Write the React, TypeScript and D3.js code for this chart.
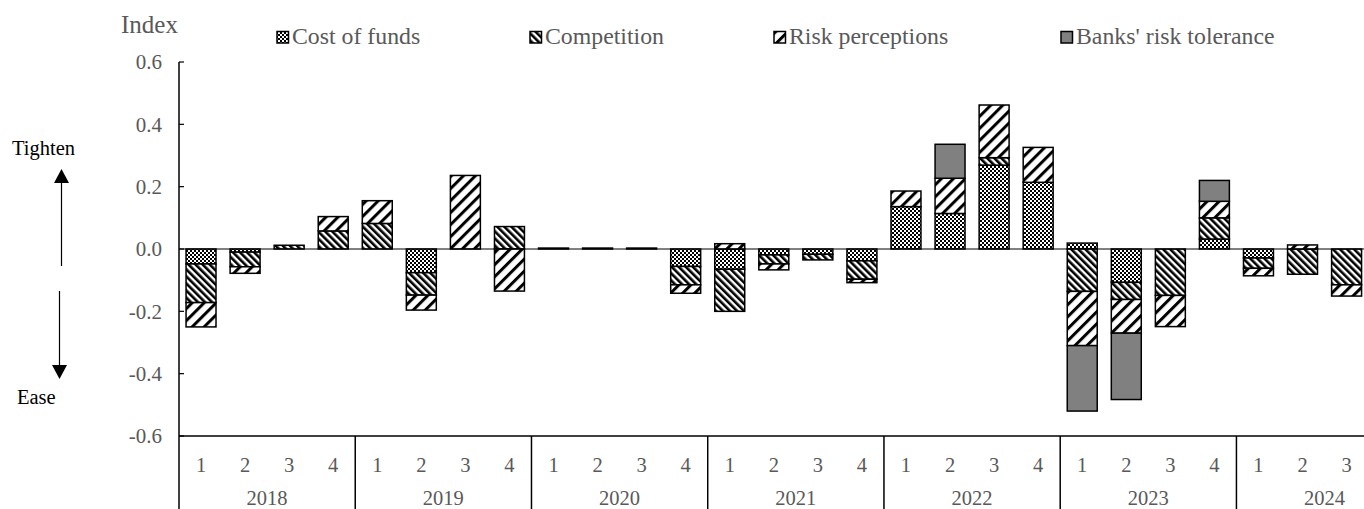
import React from 'react';
import * as d3 from 'd3';

const years = ['2018', '2019', '2020', '2021', '2022', '2023', '2024'];
const quarterLabels = ['1', '2', '3', '4'];
const periods = [
  '2018Q1','2018Q2','2018Q3','2018Q4',
  '2019Q1','2019Q2','2019Q3','2019Q4',
  '2020Q1','2020Q2','2020Q3','2020Q4',
  '2021Q1','2021Q2','2021Q3','2021Q4',
  '2022Q1','2022Q2','2022Q3','2022Q4',
  '2023Q1','2023Q2','2023Q3','2023Q4',
  '2024Q1','2024Q2','2024Q3',
];
const costOfFunds = [
  -0.048, -0.01, 0, 0,
  0, -0.076, 0, 0,
  0.003, 0.003, 0.003, -0.056,
  -0.065, -0.019, -0.017, -0.038,
  0.136, 0.114, 0.269, 0.214,
  0.019, -0.107, 0, 0.032,
  -0.029, 0, 0,
];
const competition = [
  -0.124, -0.047, 0.012, 0.058,
  0.082, -0.072, 0, 0.072,
  0, 0, 0, -0.059,
  -0.135, -0.029, -0.018, -0.059,
  0, 0, 0.024, 0,
  -0.136, -0.055, -0.149, 0.068,
  -0.033, -0.081, -0.115,
];
const riskPerceptions = [
  -0.078, -0.021, 0, 0.046,
  0.073, -0.048, 0.236, -0.135,
  0, 0, 0, -0.027,
  0.017, -0.019, 0, -0.011,
  0.05, 0.113, 0.169, 0.112,
  -0.174, -0.108, -0.1, 0.053,
  -0.024, 0.013, -0.036,
];
const riskTolerance = [
  0, 0, 0, 0,
  0, 0, 0, 0,
  0, 0, 0, 0,
  0, 0, 0, 0,
  0, 0.109, 0, 0,
  -0.21, -0.213, 0, 0.067,
  0, 0, 0,
];
const seriesNames = ['Cost of funds', 'Competition', 'Risk perceptions', "Banks' risk tolerance"];
const yTicks = [0.6, 0.4, 0.2, 0.0, -0.2, -0.4, -0.6];

const W = 1364;
const H = 509;
const FONT = "'Liberation Serif', 'Times New Roman', serif";

export default function App() {
  const left = 179;
  const step = 44.06;
  const x = d3.scaleBand<string>().domain(periods).range([left, left + step * periods.length]).paddingInner(0.32).paddingOuter(0.16);
  const y = d3.scaleLinear().domain([-0.6, 0.6]).range([436, 62]);

  const keys = ['cost', 'comp', 'risk', 'tol'];
  const rows = periods.map((p, i) => ({
    period: p,
    cost: costOfFunds[i],
    comp: competition[i],
    risk: riskPerceptions[i],
    tol: riskTolerance[i],
  }));
  const stacked = d3.stack<any>().keys(keys).offset(d3.stackOffsetDiverging)(rows);
  const fills = ['url(#pCost)', 'url(#pComp)', 'url(#pRisk)', '#808080'];

  const legendX = [277, 530, 774, 1061];
  const bottom = y(-0.6);
  const yearW = step * 4;
  const fmt = (t: number) => d3.format('.1f')(t).replace('\u2212', '-');

  return (
    <svg width={W} height={H} style={{ position: 'absolute', left: 0, top: 0, background: '#fff' }} fontFamily={FONT}>
      <defs>
        <pattern id="pCost" patternUnits="userSpaceOnUse" width="4" height="4">
          <rect width="4" height="4" fill="#fff" />
          <rect x="0" y="0" width="2" height="2" fill="#000" />
          <rect x="2" y="2" width="2" height="2" fill="#000" />
        </pattern>
        <pattern id="pComp" patternUnits="userSpaceOnUse" width="5" height="5" patternTransform="rotate(-45)">
          <rect width="5" height="5" fill="#fff" />
          <rect x="0" y="0" width="2.6" height="5" fill="#000" />
        </pattern>
        <pattern id="pRisk" patternUnits="userSpaceOnUse" width="8.5" height="8.5" patternTransform="rotate(45)">
          <rect width="8.5" height="8.5" fill="#fff" />
          <rect x="0" y="0" width="3" height="8.5" fill="#000" />
        </pattern>
      </defs>

      {/* Index label */}
      <text x={121} y={33} fontSize={25} fill="#595959">Index</text>

      {/* Legend */}
      {seriesNames.map((n, i) => (
        <g key={n}>
          <rect x={legendX[i]} y={31.5} width={11.5} height={11.5} fill={fills[i]} stroke="#000" strokeWidth={1.5} />
          <text x={legendX[i] + 15} y={44} fontSize={23.8} fill="#595959">{n}</text>
        </g>
      ))}

      {/* Tighten / Ease */}
      <text x={12} y={155} fontSize={20.5} fill="#000">Tighten</text>
      <line x1={61.5} y1={266} x2={61.5} y2={182} stroke="#000" strokeWidth={1.2} />
      <path d="M54,183 L69,183 L61.5,169 Z" fill="#000" />
      <line x1={59.5} y1={291} x2={59.5} y2={366} stroke="#000" strokeWidth={1.2} />
      <path d="M52,365 L67,365 L59.5,379 Z" fill="#000" />
      <text x={17} y={404} fontSize={20.5} fill="#000">Ease</text>

      {/* Y axis */}
      <line x1={left} y1={y(0.6)} x2={left} y2={H} stroke="#000" strokeWidth={1.5} />
      {yTicks.map((t) => (
        <g key={t}>
          <line x1={left} x2={left + 5} y1={y(t)} y2={y(t)} stroke="#000" strokeWidth={1.2} />
          <text x={162} y={y(t)} dy="0.35em" textAnchor="end" fontSize={21} fill="#595959">
            {fmt(t)}
          </text>
        </g>
      ))}

      {/* Bars */}
      {stacked.map((s, si) => (
        <g key={s.key}>
          {s.map((d, i) => {
            const v = (rows[i] as any)[s.key];
            if (!v) return null;
            const y0 = y(d[0]);
            const y1 = y(d[1]);
            return (
              <rect
                key={i}
                x={x(rows[i].period)}
                width={x.bandwidth()}
                y={Math.min(y0, y1)}
                height={Math.abs(y0 - y1)}
                fill={fills[si]}
                stroke="#000"
                strokeWidth={1.5}
              />
            );
          })}
        </g>
      ))}

      {/* Zero line */}
      <line x1={left} x2={W} y1={y(0)} y2={y(0)} stroke="#000" strokeWidth={1} />

      {/* Category axis */}
      <line x1={left} x2={W} y1={bottom} y2={bottom} stroke="#000" strokeWidth={1.5} />
      {years.map((yr, yi) => {
        const x0 = left + yi * yearW;
        return (
          <g key={yr}>
            <line x1={x0 + yearW} x2={x0 + yearW} y1={bottom} y2={H} stroke="#000" strokeWidth={1.5} />
            <text x={x0 + yearW / 2} y={505} textAnchor="middle" fontSize={20.5} fill="#595959">{yr}</text>
          </g>
        );
      })}
      {periods.map((p, i) => (
        <text key={p} x={(x(p) as number) + x.bandwidth() / 2} y={472} textAnchor="middle" fontSize={20.5} fill="#595959">
          {quarterLabels[i % 4]}
        </text>
      ))}
    </svg>
  );
}
